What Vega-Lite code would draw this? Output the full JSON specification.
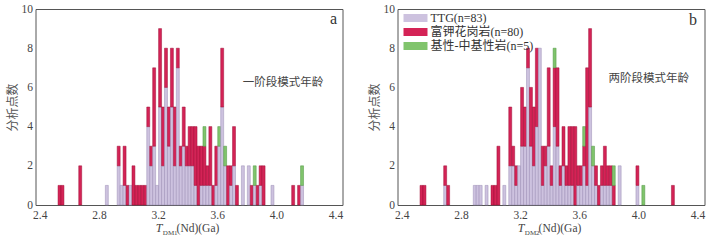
{
  "$schema": "https://vega.github.io/schema/vega-lite/v6.json",
  "padding": {"left": 5.5, "top": 2, "right": 0, "bottom": 0},
  "background": "white",
  "bounds": "flush",
  "spacing": 55,
  "config": {
    "font": "Liberation Serif, Noto Sans CJK SC",
    "view": {"stroke": "#555", "strokeWidth": 1},
    "axis": {"labelFont": "Liberation Serif", "labelFontSize": 11.5, "labelColor": "#444", "labelOverlap": false, "domain": false, "grid": false, "ticks": false, "titleFont": "Noto Sans CJK SC", "titleFontSize": 12, "titleColor": "#555", "titleFontWeight": "normal"}
  },
  "datasets": {
    "a": [
      {"t":2.53,"TTG":0,"K":1,"B":0},{"t":2.55,"TTG":0,"K":1,"B":0},{"t":2.67,"TTG":0,"K":2,"B":0},
      {"t":2.85,"TTG":1,"K":0,"B":0},{"t":2.93,"TTG":2,"K":1,"B":0},{"t":2.95,"TTG":1,"K":0,"B":0},
      {"t":2.97,"TTG":1,"K":2,"B":0},{"t":2.99,"TTG":0,"K":1,"B":0},{"t":3.01,"TTG":1,"K":0,"B":0},
      {"t":3.03,"TTG":0,"K":2,"B":0},{"t":3.05,"TTG":0,"K":1,"B":0},{"t":3.07,"TTG":0,"K":1,"B":0},
      {"t":3.09,"TTG":0,"K":1,"B":0},{"t":3.11,"TTG":0,"K":1,"B":0},{"t":3.13,"TTG":4,"K":1,"B":0},
      {"t":3.15,"TTG":2,"K":1,"B":0},{"t":3.17,"TTG":3,"K":4,"B":0},{"t":3.19,"TTG":1,"K":0,"B":0},
      {"t":3.21,"TTG":5,"K":4,"B":0},{"t":3.23,"TTG":2,"K":3,"B":0},{"t":3.25,"TTG":6,"K":2,"B":0},
      {"t":3.27,"TTG":3,"K":2,"B":0},{"t":3.29,"TTG":5,"K":3,"B":0},{"t":3.31,"TTG":2,"K":3,"B":0},
      {"t":3.33,"TTG":7,"K":1,"B":0},{"t":3.35,"TTG":2,"K":1,"B":0},{"t":3.37,"TTG":3,"K":2,"B":0},
      {"t":3.39,"TTG":2,"K":1,"B":0},{"t":3.41,"TTG":2,"K":2,"B":0},{"t":3.43,"TTG":2,"K":2,"B":0},
      {"t":3.45,"TTG":1,"K":3,"B":0},{"t":3.47,"TTG":0,"K":3,"B":0},{"t":3.49,"TTG":1,"K":2,"B":0},
      {"t":3.51,"TTG":1,"K":2,"B":1},{"t":3.53,"TTG":1,"K":1,"B":0},{"t":3.55,"TTG":1,"K":3,"B":0},
      {"t":3.57,"TTG":0,"K":1,"B":0},{"t":3.59,"TTG":1,"K":2,"B":0},{"t":3.61,"TTG":3,"K":0,"B":1},
      {"t":3.63,"TTG":5,"K":3,"B":0},{"t":3.65,"TTG":2,"K":0,"B":1},{"t":3.67,"TTG":0,"K":2,"B":0},
      {"t":3.69,"TTG":1,"K":1,"B":0},{"t":3.71,"TTG":2,"K":2,"B":0},{"t":3.73,"TTG":0,"K":1,"B":0},
      {"t":3.77,"TTG":2,"K":0,"B":0},{"t":3.81,"TTG":2,"K":0,"B":0},{"t":3.83,"TTG":0,"K":1,"B":0},
      {"t":3.85,"TTG":1,"K":0,"B":1},{"t":3.87,"TTG":0,"K":1,"B":0},{"t":3.89,"TTG":1,"K":1,"B":0},
      {"t":3.91,"TTG":0,"K":2,"B":0},{"t":3.97,"TTG":1,"K":0,"B":0},{"t":4.11,"TTG":0,"K":1,"B":0},
      {"t":4.15,"TTG":0,"K":1,"B":0},{"t":4.17,"TTG":1,"K":0,"B":1}
    ],
    "b": [
      {"t":2.53,"TTG":0,"K":1,"B":0},{"t":2.55,"TTG":0,"K":1,"B":0},{"t":2.69,"TTG":1,"K":1,"B":0},
      {"t":2.71,"TTG":0,"K":1,"B":0},{"t":2.89,"TTG":1,"K":0,"B":0},{"t":2.91,"TTG":1,"K":0,"B":0},
      {"t":2.93,"TTG":1,"K":0,"B":0},{"t":2.97,"TTG":1,"K":0,"B":0},{"t":3.01,"TTG":0,"K":1,"B":0},
      {"t":3.03,"TTG":0,"K":1,"B":0},{"t":3.05,"TTG":0,"K":3,"B":0},{"t":3.09,"TTG":1,"K":0,"B":0},
      {"t":3.13,"TTG":2,"K":3,"B":0},{"t":3.15,"TTG":2,"K":1,"B":0},{"t":3.17,"TTG":1,"K":1,"B":0},
      {"t":3.19,"TTG":2,"K":0,"B":0},{"t":3.21,"TTG":3,"K":3,"B":0},{"t":3.23,"TTG":3,"K":2,"B":0},
      {"t":3.25,"TTG":7,"K":1,"B":0},{"t":3.27,"TTG":3,"K":3,"B":0},{"t":3.29,"TTG":2,"K":3,"B":0},
      {"t":3.31,"TTG":4,"K":4,"B":0},{"t":3.33,"TTG":8,"K":0,"B":0},{"t":3.35,"TTG":1,"K":2,"B":0},
      {"t":3.37,"TTG":2,"K":1,"B":0},{"t":3.39,"TTG":3,"K":4,"B":0},{"t":3.41,"TTG":1,"K":1,"B":0},
      {"t":3.43,"TTG":4,"K":3,"B":1},{"t":3.45,"TTG":3,"K":4,"B":0},{"t":3.47,"TTG":1,"K":1,"B":0},
      {"t":3.49,"TTG":2,"K":2,"B":0},{"t":3.51,"TTG":1,"K":1,"B":0},{"t":3.53,"TTG":1,"K":3,"B":0},
      {"t":3.55,"TTG":1,"K":3,"B":0},{"t":3.57,"TTG":0,"K":4,"B":0},{"t":3.59,"TTG":1,"K":1,"B":0},
      {"t":3.61,"TTG":1,"K":1,"B":0},{"t":3.63,"TTG":2,"K":1,"B":1},{"t":3.65,"TTG":1,"K":6,"B":0},
      {"t":3.67,"TTG":5,"K":4,"B":0},{"t":3.69,"TTG":2,"K":0,"B":1},{"t":3.71,"TTG":1,"K":1,"B":0},
      {"t":3.73,"TTG":0,"K":1,"B":0},{"t":3.75,"TTG":1,"K":1,"B":0},{"t":3.77,"TTG":1,"K":2,"B":0},
      {"t":3.79,"TTG":1,"K":1,"B":0},{"t":3.81,"TTG":1,"K":1,"B":0},{"t":3.83,"TTG":0,"K":1,"B":1},
      {"t":3.87,"TTG":2,"K":0,"B":0},{"t":3.99,"TTG":1,"K":1,"B":0},{"t":4.03,"TTG":0,"K":0,"B":1},
      {"t":4.23,"TTG":0,"K":1,"B":0}
    ]
  },
  "hconcat": [
    {
      "width": 307, "height": 196,
      "layer": [
        {
          "data": {"name": "a"},
          "transform": [
            {"fold": ["TTG", "K", "B"], "as": ["rock", "n"]},
            {"filter": "datum.n > 0"}
          ],
          "mark": {"type": "bar", "binSpacing": 0, "strokeWidth": 0.5},
          "encoding": {
            "x": {"field": "t", "type": "quantitative", "bin": {"step": 0.02, "extent": [2.4, 4.4]},
                  "scale": {"domain": [2.371, 4.447], "nice": false, "zero": false},
                  "axis": {"values": [2.4, 2.8, 3.2, 3.6, 4.0, 4.4], "tickCount": 10, "format": ".1f", "title": null, "labelPadding": 4}},
            "y": {"aggregate": "sum", "field": "n", "type": "quantitative",
                  "scale": {"domain": [0, 10], "nice": false},
                  "axis": {"values": [0, 2, 4, 6, 8, 10], "tickCount": 10, "title": "分析点数", "labelPadding": 3, "titlePadding": 2}},
            "color": {"field": "rock", "type": "nominal",
                      "scale": {"domain": ["TTG", "K", "B"], "range": ["#cdc2df", "#d42356", "#80c46c"]},
                      "legend": null},
            "stroke": {"field": "rock", "type": "nominal",
                      "scale": {"domain": ["TTG", "K", "B"], "range": ["#9a8db5", "#9e0f37", "#4d9440"]},
                      "legend": null}
          }
        },
        {"data": {"values": [{}]}, "mark": {"type": "text", "text": "一阶段模式年龄", "font": "Noto Sans CJK SC", "fontSize": 11.5, "color": "#444", "align": "center", "baseline": "middle"},
         "encoding": {"x": {"datum": 4.044, "type": "quantitative"}, "y": {"datum": 6.25, "type": "quantitative"}}},
        {"data": {"values": [{}]}, "mark": {"type": "text", "text": "a", "font": "Liberation Serif", "fontSize": 16, "color": "#333", "align": "right", "baseline": "alphabetic"},
         "encoding": {"x": {"datum": 4.411, "type": "quantitative"}, "y": {"datum": 9.23, "type": "quantitative"}}},
        {"data": {"values": [{}]}, "mark": {"type": "text", "text": "T", "font": "Liberation Serif", "fontStyle": "italic", "fontSize": 12, "color": "#444", "align": "right", "baseline": "alphabetic"},
         "encoding": {"x": {"datum": 3.229, "type": "quantitative"}, "y": {"datum": -1.38, "type": "quantitative"}}},
        {"data": {"values": [{}]}, "mark": {"type": "text", "text": "DM1", "font": "Liberation Serif", "fontSize": 7, "color": "#444", "align": "left", "baseline": "alphabetic"},
         "encoding": {"x": {"datum": 3.232, "type": "quantitative"}, "y": {"datum": -1.53, "type": "quantitative"}}},
        {"data": {"values": [{}]}, "mark": {"type": "text", "text": "(Nd)(Ga)", "font": "Liberation Serif", "fontSize": 11.5, "color": "#444", "align": "left", "baseline": "alphabetic"},
         "encoding": {"x": {"datum": 3.325, "type": "quantitative"}, "y": {"datum": -1.38, "type": "quantitative"}}}
      ]
    },
    {
      "width": 307, "height": 196,
      "layer": [
        {
          "data": {"name": "b"},
          "transform": [
            {"fold": ["TTG", "K", "B"], "as": ["rock", "n"]},
            {"filter": "datum.n > 0"}
          ],
          "mark": {"type": "bar", "binSpacing": 0, "strokeWidth": 0.5},
          "encoding": {
            "x": {"field": "t", "type": "quantitative", "bin": {"step": 0.02, "extent": [2.4, 4.4]},
                  "scale": {"domain": [2.371, 4.447], "nice": false, "zero": false},
                  "axis": {"values": [2.4, 2.8, 3.2, 3.6, 4.0, 4.4], "tickCount": 10, "format": ".1f", "title": null, "labelPadding": 4}},
            "y": {"aggregate": "sum", "field": "n", "type": "quantitative",
                  "scale": {"domain": [0, 10], "nice": false},
                  "axis": {"values": [0, 2, 4, 6, 8, 10], "tickCount": 10, "title": "分析点数", "labelPadding": 3, "titlePadding": 2}},
            "color": {"field": "rock", "type": "nominal",
                      "scale": {"domain": ["TTG", "K", "B"], "range": ["#cdc2df", "#d42356", "#80c46c"]},
                      "legend": {"orient": "none", "legendX": 10, "legendY": 1, "title": null,
                                 "labelExpr": "datum.label == 'TTG' ? 'TTG(n=83)' : datum.label == 'K' ? '富钾花岗岩(n=80)' : '基性-中基性岩(n=5)'",
                                 "symbolType": "M-1.5,-0.5L1.5,-0.5L1.5,0.5L-1.5,0.5Z", "symbolSize": 256, "symbolStrokeWidth": 0,
                                 "rowPadding": 0, "labelOffset": 7, "labelFontSize": 12, "labelFont": "Liberation Serif, Noto Sans CJK SC", "labelColor": "#333"}},
            "stroke": {"field": "rock", "type": "nominal",
                      "scale": {"domain": ["TTG", "K", "B"], "range": ["#9a8db5", "#9e0f37", "#4d9440"]},
                      "legend": null}
          }
        },
        {"data": {"values": [{}]}, "mark": {"type": "text", "text": "两阶段模式年龄", "font": "Noto Sans CJK SC", "fontSize": 11.5, "color": "#444", "align": "center", "baseline": "middle"},
         "encoding": {"x": {"datum": 4.07, "type": "quantitative"}, "y": {"datum": 6.43, "type": "quantitative"}}},
        {"data": {"values": [{}]}, "mark": {"type": "text", "text": "b", "font": "Liberation Serif", "fontSize": 16, "color": "#333", "align": "right", "baseline": "alphabetic"},
         "encoding": {"x": {"datum": 4.397, "type": "quantitative"}, "y": {"datum": 9.16, "type": "quantitative"}}},
        {"data": {"values": [{}]}, "mark": {"type": "text", "text": "T", "font": "Liberation Serif", "fontStyle": "italic", "fontSize": 12, "color": "#444", "align": "right", "baseline": "alphabetic"},
         "encoding": {"x": {"datum": 3.229, "type": "quantitative"}, "y": {"datum": -1.38, "type": "quantitative"}}},
        {"data": {"values": [{}]}, "mark": {"type": "text", "text": "DM2", "font": "Liberation Serif", "fontSize": 7, "color": "#444", "align": "left", "baseline": "alphabetic"},
         "encoding": {"x": {"datum": 3.232, "type": "quantitative"}, "y": {"datum": -1.53, "type": "quantitative"}}},
        {"data": {"values": [{}]}, "mark": {"type": "text", "text": "(Nd)(Ga)", "font": "Liberation Serif", "fontSize": 11.5, "color": "#444", "align": "left", "baseline": "alphabetic"},
         "encoding": {"x": {"datum": 3.325, "type": "quantitative"}, "y": {"datum": -1.38, "type": "quantitative"}}}
      ]
    }
  ],
  "resolve": {"scale": {"color": "independent", "stroke": "independent"}, "legend": {"color": "independent", "stroke": "independent"}}
}
